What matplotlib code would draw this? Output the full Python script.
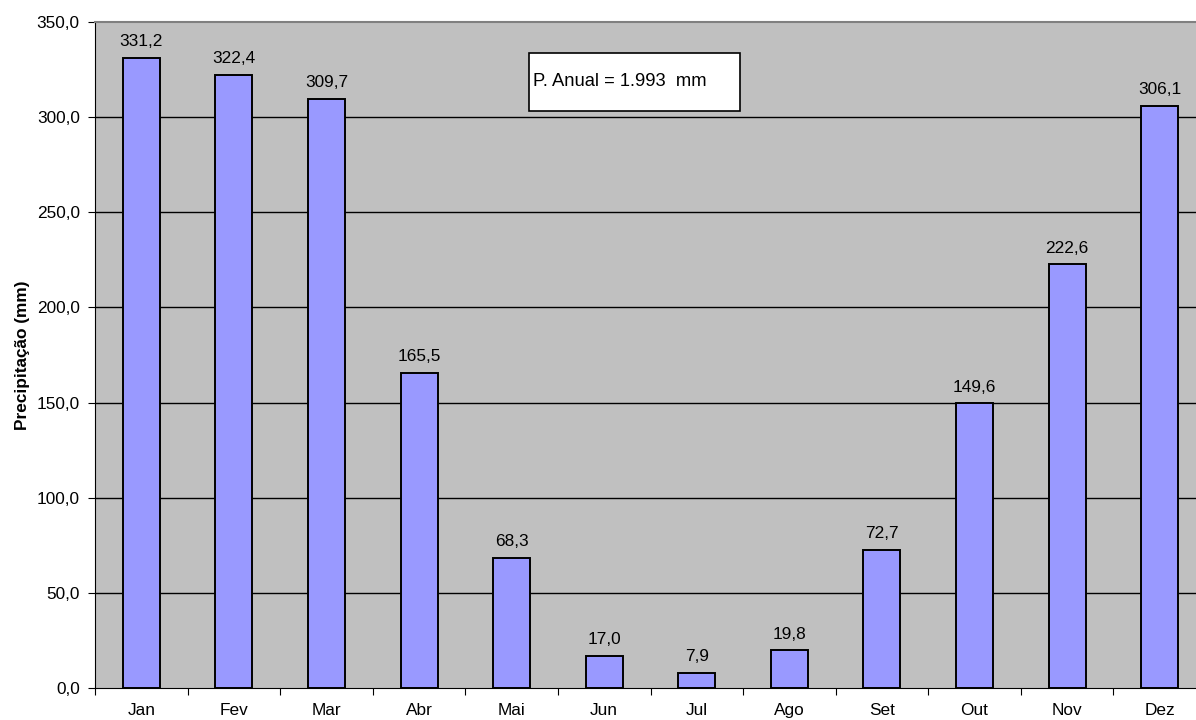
import matplotlib.pyplot as plt
from matplotlib.patches import Rectangle
import numpy as np

meses = ['Jan', 'Fev', 'Mar', 'Abr', 'Mai', 'Jun', 'Jul', 'Ago', 'Set', 'Out', 'Nov', 'Dez']
precip = [331.2, 322.4, 309.7, 165.5, 68.3, 17.0, 7.9, 19.8, 72.7, 149.6, 222.6, 306.1]
yticks = [0, 50, 100, 150, 200, 250, 300, 350]
anual_txt = 'P. Anual = 1.993  mm'

plt.rcParams['font.family'] = ['Liberation Sans', 'DejaVu Sans']
fs = 12.4

fig = plt.figure(figsize=(11.96, 7.2), dpi=100)
ax = fig.add_axes([95 / 1196, 32 / 720, 1111 / 1196, 666 / 720])
ax.set_facecolor('#C0C0C0')

x = np.arange(len(meses))
ax.set_xlim(-0.5, len(meses) - 0.5)
ax.set_ylim(0, 350)

for y in yticks[1:-1]:
    ax.axhline(y, color='black', lw=1, zorder=1)

ax.bar(x, precip, width=0.4, color='#9999FF', edgecolor='black', lw=1.4, zorder=2)
for xi, v in zip(x, precip):
    ax.annotate(f'{v:.1f}'.replace('.', ','), (xi, v), xytext=(0, 8.4), textcoords='offset points',
                ha='center', va='baseline', fontsize=fs)

ax.set_yticks(yticks)
ax.set_yticklabels([f'{v:.1f}'.replace('.', ',') for v in yticks], fontsize=fs)
ax.set_xticks(np.arange(-0.5, len(meses), 1), minor=False)
ax.set_xticklabels([])
ax.set_xticks(x, minor=True)
ax.set_xticklabels(meses, minor=True, fontsize=fs)
ax.tick_params(axis='x', which='minor', length=0, pad=11)
ax.tick_params(axis='x', which='major', length=5, direction='out')
ax.tick_params(axis='y', length=5, direction='out', pad=6)

ax.set_ylabel('Precipitação (mm)', fontsize=fs, fontweight='bold', labelpad=5)

ax.spines['top'].set_color('#808080')
ax.spines['top'].set_linewidth(1.5)
ax.spines['right'].set_visible(False)

# caixa com a precipitacao anual
bx0 = (529 - 95) / 1111
bx1 = (740 - 95) / 1111
by0 = (688 - 111) / 666
by1 = (688 - 53) / 666
ax.add_patch(Rectangle((bx0, by0), bx1 - bx0, by1 - by0, transform=ax.transAxes,
                       fc='white', ec='black', lw=1.2, zorder=5))
ax.text(bx0 + 4 / 1111, (by0 + by1) / 2, anual_txt, transform=ax.transAxes, fontsize=13.2,
        va='center', ha='left', zorder=6)

fig.savefig('out.png', dpi=100)
